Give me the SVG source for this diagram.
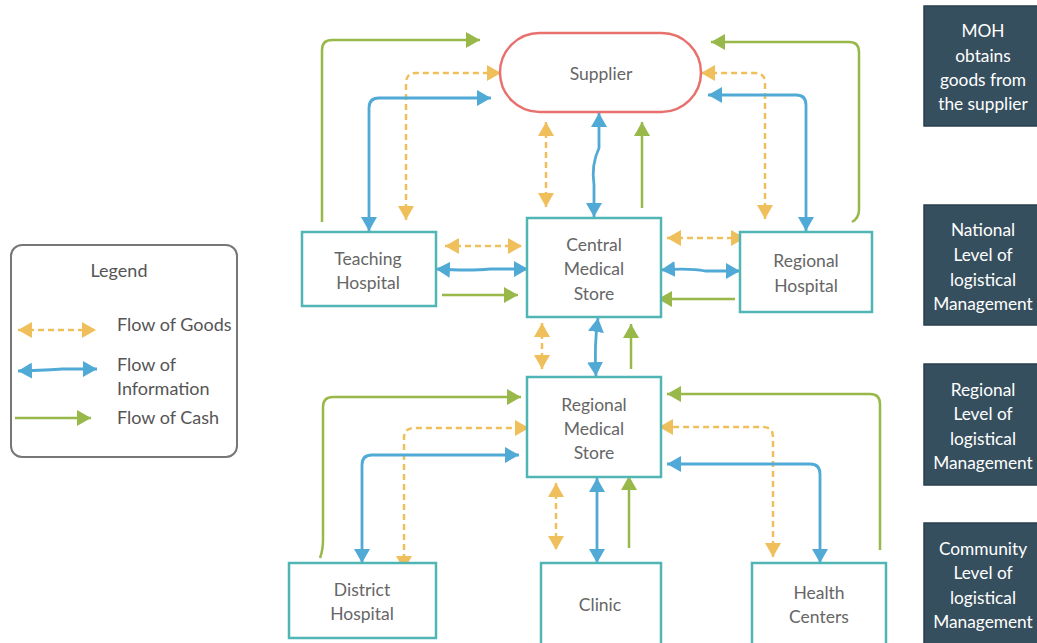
<svg xmlns="http://www.w3.org/2000/svg" width="1037" height="643" viewBox="0 0 1037 643">
  <style>
    .node { fill: #ffffff; stroke: #4fb5b5; stroke-width: 2.5; }
    .supplier { fill: #ffffff; stroke: #e8716e; stroke-width: 2.5; }
    .label { font-family: Lato, "Liberation Sans", sans-serif; font-size: 17.5px; fill: #666666; text-anchor: middle; }
    .level { fill: #364f5e; stroke: #2a3f4c; stroke-width: 1.5; }
    .levelText { font-family: Lato, "Liberation Sans", sans-serif; font-size: 17.3px; fill: #ffffff; text-anchor: middle; }
    .legendBox { fill: #ffffff; stroke: #777777; stroke-width: 2; }
    .legendText { font-family: Lato, "Liberation Sans", sans-serif; font-size: 18px; fill: #555555; }
    .goods { fill: none; stroke: #efbf5b; stroke-width: 2.5; stroke-dasharray: 6 4; marker-start: url(#arrowGoods); marker-end: url(#arrowGoods); }
    .info { fill: none; stroke: #51a9d6; stroke-width: 2.8; marker-start: url(#arrowInfo); marker-end: url(#arrowInfo); }
    .cash { fill: none; stroke: #98b84a; stroke-width: 2.5; marker-end: url(#arrowCash); }
  </style>
  <defs>
    <marker id="arrowGoods" viewBox="0 0 14 16" refX="14" refY="8" markerWidth="14" markerHeight="16" markerUnits="userSpaceOnUse" orient="auto-start-reverse">
      <path d="M0,0 L14,8 L0,16 Z" fill="#efbf5b"/>
    </marker>
    <marker id="arrowInfo" viewBox="0 0 14 16" refX="14" refY="8" markerWidth="14" markerHeight="16" markerUnits="userSpaceOnUse" orient="auto-start-reverse">
      <path d="M0,0 L14,8 L0,16 Z" fill="#51a9d6"/>
    </marker>
    <marker id="arrowCash" viewBox="0 0 14 16" refX="14" refY="8" markerWidth="14" markerHeight="16" markerUnits="userSpaceOnUse" orient="auto">
      <path d="M0,0 L14,8 L0,16 Z" fill="#98b84a"/>
    </marker>
  </defs>

  <rect width="1037" height="643" fill="#ffffff"/>

  <!-- connectors -->
  <g id="connectors">
    <!-- supplier links, left side -->
    <path class="cash" d="M322,222 L322,50 Q322,40 332,40 L480,40"/>
    <path class="goods" d="M406,220 L406,83 Q406,73 416,73 L501,73"/>
    <path class="info" d="M369,231 L369,108 Q369,98 379,98 L491,98"/>
    <!-- supplier to central store -->
    <path class="goods" d="M546,122 L546,207"/>
    <path class="info" d="M599,113 L599,148 Q591,165 594,185 L594,217"/>
    <path class="cash" d="M642,208 L642,122"/>
    <!-- supplier links, right side -->
    <path class="cash" d="M852,222 Q859,218 859,210 L859,52 Q859,42 849,42 L711,42"/>
    <path class="goods" d="M765,219 L765,83 Q765,73 755,73 L701,73"/>
    <path class="info" d="M806,231 L806,105 Q806,95 796,95 L708,95"/>
    <!-- teaching hospital to central store -->
    <path class="goods" d="M445,246 L522,246"/>
    <path class="info" d="M436,269 Q470,271 490,269 L528,269"/>
    <path class="cash" d="M442,295 L518,295"/>
    <!-- central store to regional hospital -->
    <path class="goods" d="M667,238 L745,238"/>
    <path class="info" d="M661,270 Q690,268 705,271 L740,271"/>
    <path class="cash" d="M735,299 L658,299"/>
    <!-- central store to regional medical store -->
    <path class="goods" d="M542,323 L542,369"/>
    <path class="info" d="M598,318 Q594,345 596,376"/>
    <path class="cash" d="M631,369 L631,324"/>
    <!-- district hospital links -->
    <path class="cash" d="M320,558 Q323,550 323,540 L323,407 Q323,397 333,397 L521,397"/>
    <path class="goods" d="M404,570 L404,438 Q404,428 414,428 L529,428"/>
    <path class="info" d="M362,563 L362,465 Q362,455 372,455 L519,455"/>
    <!-- clinic links -->
    <path class="goods" d="M556,483 L556,550"/>
    <path class="info" d="M597,478 L597,563"/>
    <path class="cash" d="M629,548 L629,476"/>
    <!-- health centers links -->
    <path class="cash" d="M880,550 L880,404 Q880,394 870,394 L667,394"/>
    <path class="goods" d="M773,557 L773,437 Q773,427 763,427 L659,427"/>
    <path class="info" d="M820,563 L820,474 Q820,464 810,464 L667,464"/>
  </g>

  <!-- nodes -->
  <g id="supplier">
    <rect class="supplier" x="500" y="33" width="201" height="79" rx="39.5"/>
    <text class="label" x="601" y="80">Supplier</text>
  </g>
  <g id="teaching-hospital">
    <rect class="node" x="302" y="232" width="134" height="74"/>
    <text class="label" x="368" y="265">Teaching</text>
    <text class="label" x="368" y="289">Hospital</text>
  </g>
  <g id="central-medical-store">
    <rect class="node" x="527" y="218" width="134" height="99"/>
    <text class="label" x="594" y="251">Central</text>
    <text class="label" x="594" y="275">Medical</text>
    <text class="label" x="594" y="300">Store</text>
  </g>
  <g id="regional-hospital">
    <rect class="node" x="740" y="232" width="132" height="80"/>
    <text class="label" x="806" y="267">Regional</text>
    <text class="label" x="806" y="292">Hospital</text>
  </g>
  <g id="regional-medical-store">
    <rect class="node" x="527" y="377" width="134" height="100"/>
    <text class="label" x="594" y="411">Regional</text>
    <text class="label" x="594" y="435">Medical</text>
    <text class="label" x="594" y="459">Store</text>
  </g>
  <g id="district-hospital">
    <rect class="node" x="289" y="563" width="147" height="75"/>
    <text class="label" x="362" y="596">District</text>
    <text class="label" x="362" y="620">Hospital</text>
  </g>
  <g id="clinic">
    <rect class="node" x="541" y="563" width="120" height="82"/>
    <text class="label" x="600" y="611">Clinic</text>
  </g>
  <g id="health-centers">
    <rect class="node" x="752" y="563" width="134" height="82"/>
    <text class="label" x="819" y="599">Health</text>
    <text class="label" x="819" y="623">Centers</text>
  </g>

  <!-- level panels -->
  <g id="level-moh">
    <rect class="level" x="924" y="6" width="120" height="120"/>
    <text class="levelText" x="983" y="37">MOH</text>
    <text class="levelText" x="983" y="62">obtains</text>
    <text class="levelText" x="983" y="86">goods from</text>
    <text class="levelText" x="983" y="110">the supplier</text>
  </g>
  <g id="level-national">
    <rect class="level" x="924" y="205" width="120" height="120"/>
    <text class="levelText" x="983" y="236">National</text>
    <text class="levelText" x="983" y="261">Level of</text>
    <text class="levelText" x="983" y="286">logistical</text>
    <text class="levelText" x="983" y="310">Management</text>
  </g>
  <g id="level-regional">
    <rect class="level" x="924" y="364" width="120" height="121"/>
    <text class="levelText" x="983" y="396">Regional</text>
    <text class="levelText" x="983" y="420">Level of</text>
    <text class="levelText" x="983" y="445">logistical</text>
    <text class="levelText" x="983" y="469">Management</text>
  </g>
  <g id="level-community">
    <rect class="level" x="924" y="523" width="120" height="130"/>
    <text class="levelText" x="983" y="555">Community</text>
    <text class="levelText" x="983" y="579">Level of</text>
    <text class="levelText" x="983" y="604">logistical</text>
    <text class="levelText" x="983" y="628">Management</text>
  </g>

  <!-- legend -->
  <g id="legend">
    <rect class="legendBox" x="11" y="245" width="226" height="212" rx="11"/>
    <text class="legendText" x="119" y="277" text-anchor="middle" font-size="17">Legend</text>
    <path class="goods" d="M18,330 L96,330"/>
    <text class="legendText" x="117" y="331">Flow of Goods</text>
    <path class="info" d="M18,371 Q50,370 62,369 L97,369"/>
    <text class="legendText" x="117" y="371">Flow of</text>
    <text class="legendText" x="117" y="395">Information</text>
    <path class="cash" d="M15,418 L91,418"/>
    <text class="legendText" x="117" y="424">Flow of Cash</text>
  </g>
</svg>
